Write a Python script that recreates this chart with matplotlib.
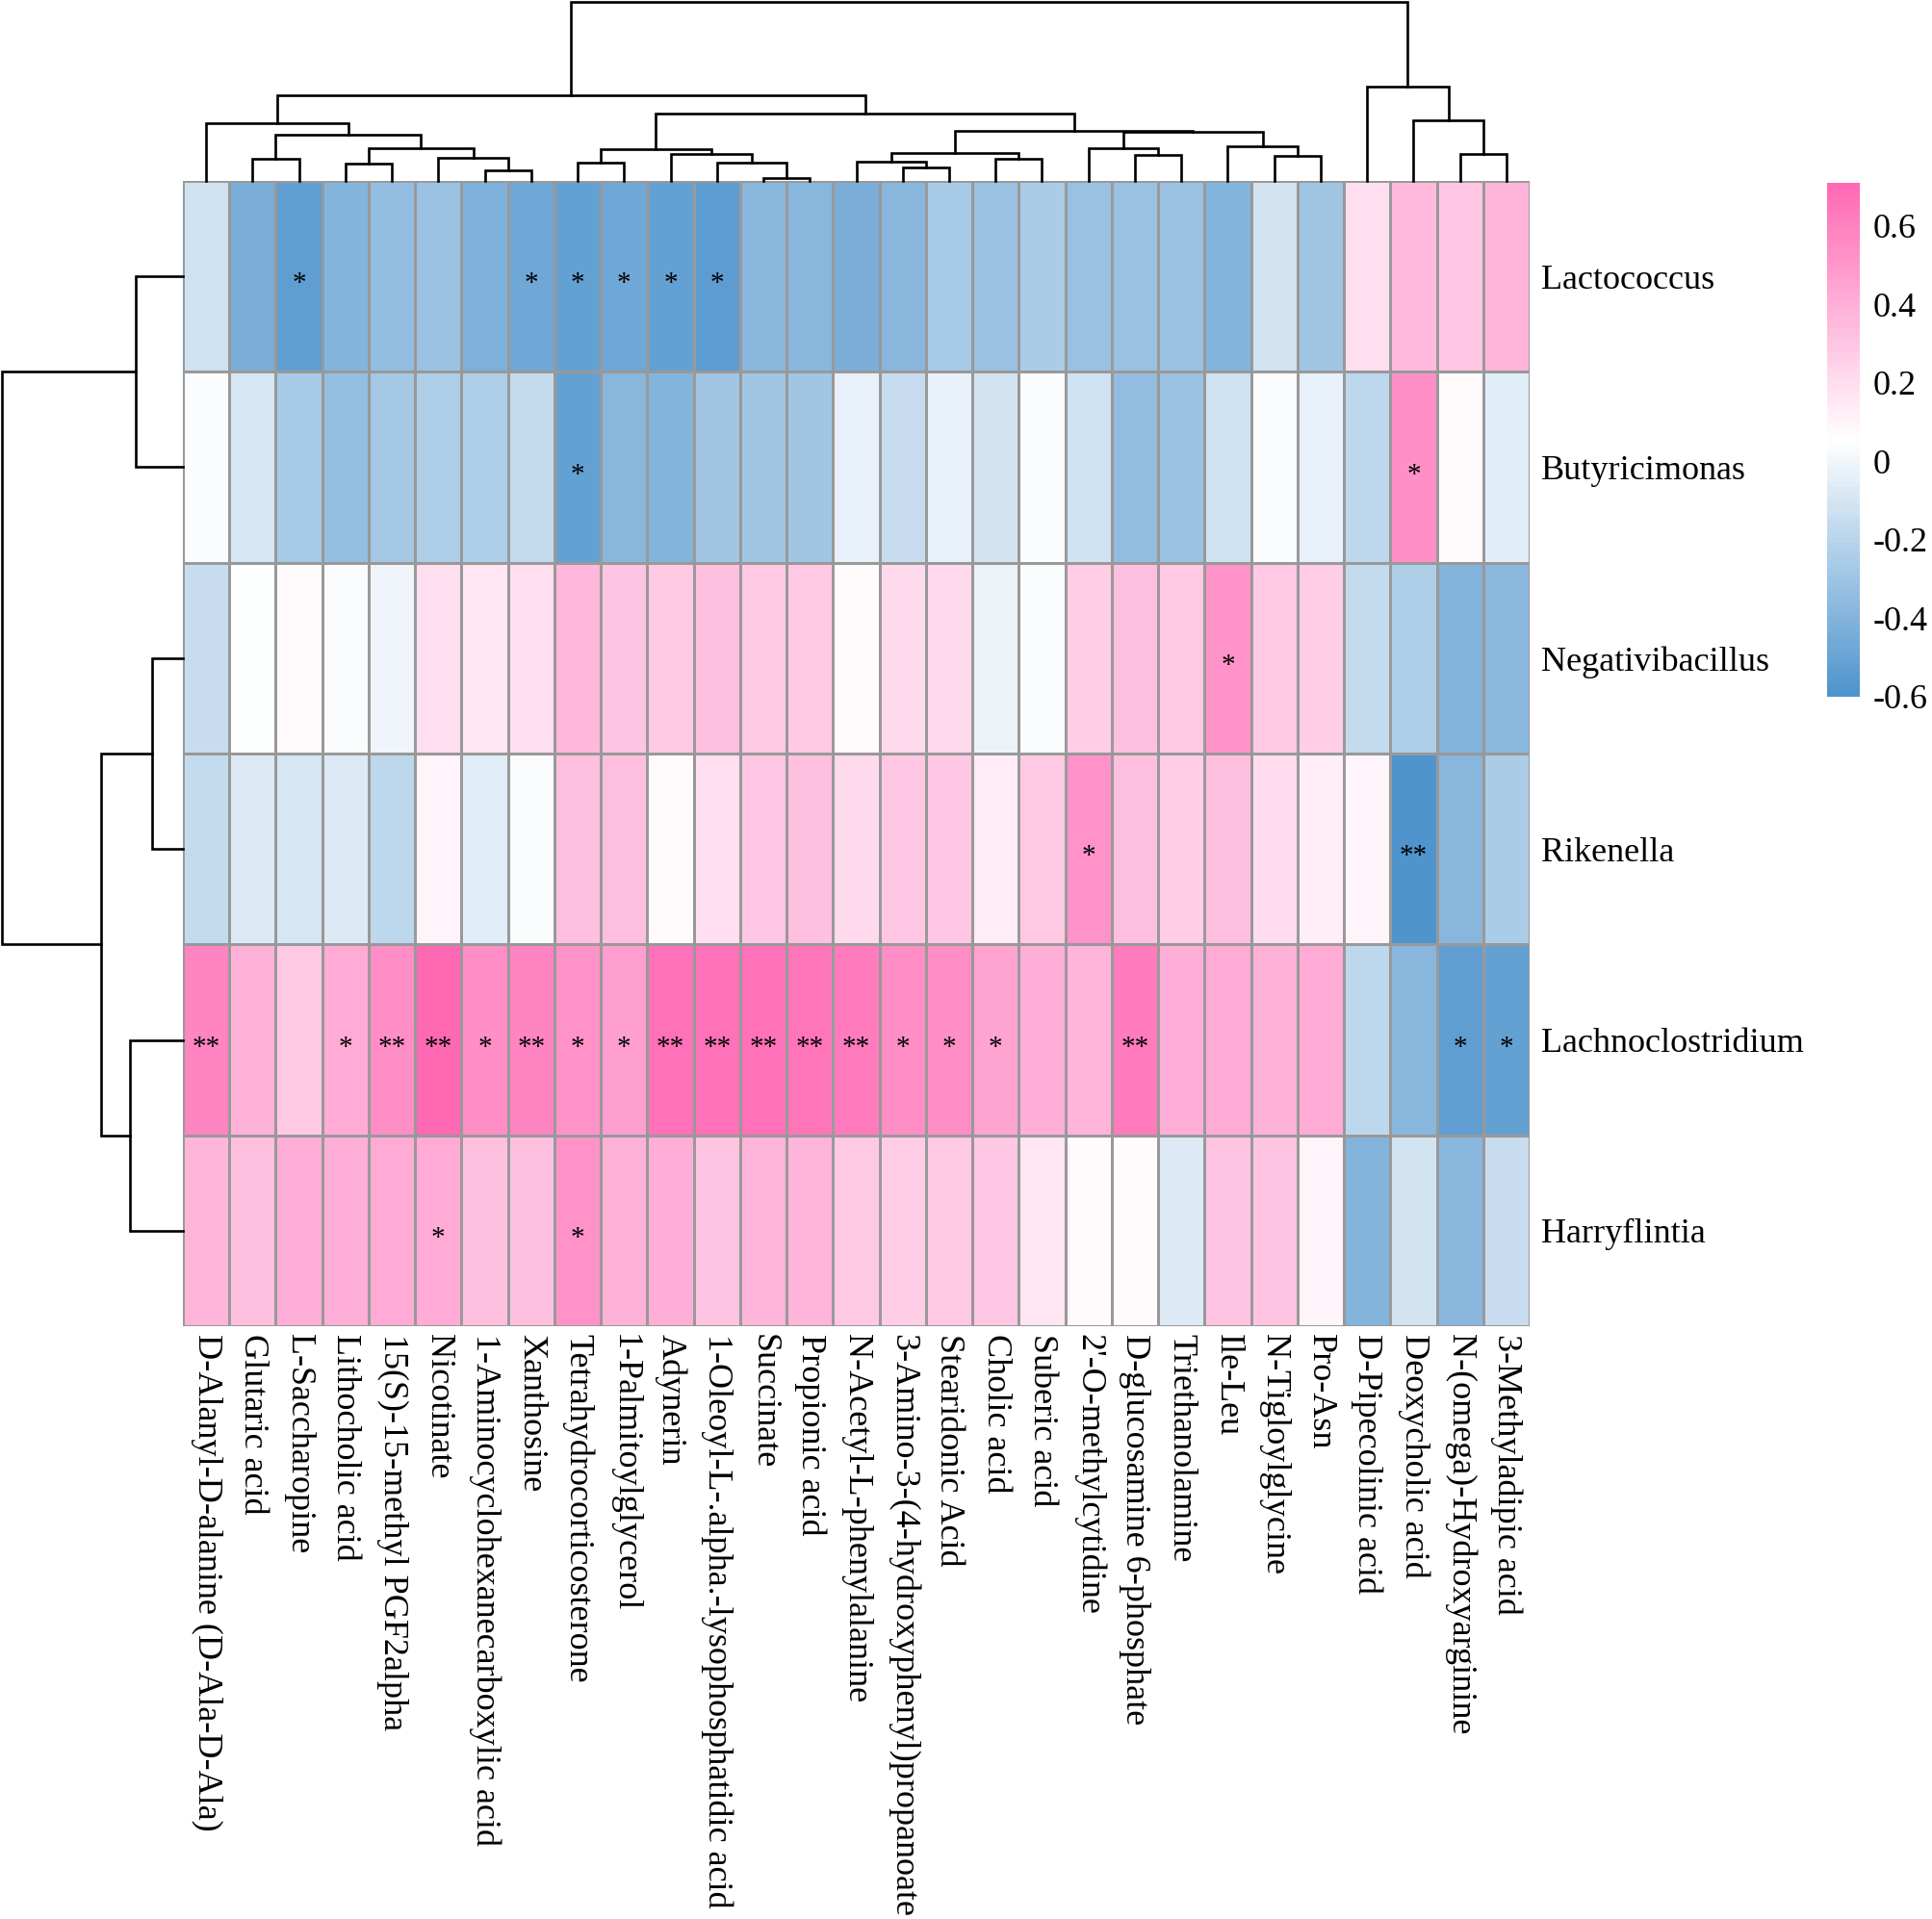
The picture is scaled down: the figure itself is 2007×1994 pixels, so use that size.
import numpy as np
import matplotlib
matplotlib.use("Agg")
import matplotlib.pyplot as plt
from matplotlib.colors import LinearSegmentedColormap, ListedColormap
import matplotlib.transforms as mtransforms

plt.rcParams['font.family'] = ['Liberation Serif', 'DejaVu Serif']

# ---------------- data ----------------
metabolites = [
    "D-Alanyl-D-alanine (D-Ala-D-Ala)", "Glutaric acid", "L-Saccharopine", "Lithocholic acid",
    "15(S)-15-methyl PGF2alpha", "Nicotinate", "1-Aminocyclohexanecarboxylic acid", "Xanthosine",
    "Tetrahydrocorticosterone", "1-Palmitoylglycerol", "Adynerin",
    "1-Oleoyl-L-.alpha.-lysophosphatidic acid", "Succinate", "Propionic acid",
    "N-Acetyl-L-phenylalanine", "3-Amino-3-(4-hydroxyphenyl)propanoate", "Stearidonic Acid",
    "Cholic acid", "Suberic acid", "2'-O-methylcytidine", "D-glucosamine 6-phosphate",
    "Triethanolamine", "Ile-Leu", "N-Tigloylglycine", "Pro-Asn", "D-Pipecolinic acid",
    "Deoxycholic acid", "N-(omega)-Hydroxyarginine", "3-Methyladipic acid",
]
genera = ["Lactococcus", "Butyricimonas", "Negativibacillus", "Rikenella",
          "Lachnoclostridium", "Harryflintia"]

r_lactococcus = [-0.12, -0.44, -0.53, -0.40, -0.34, -0.32, -0.42, -0.48, -0.51, -0.47,
                 -0.51, -0.54, -0.38, -0.38, -0.43, -0.38, -0.26, -0.32, -0.25, -0.32,
                 -0.32, -0.32, -0.40, -0.11, -0.29, 0.19, 0.35, 0.30, 0.38]
r_butyricimonas = [0.04, -0.10, -0.27, -0.33, -0.28, -0.24, -0.24, -0.16, -0.51, -0.38,
                   -0.40, -0.29, -0.29, -0.29, -0.03, -0.15, -0.03, -0.11, 0.04, -0.12,
                   -0.34, -0.32, -0.12, 0.04, -0.03, -0.19, 0.53, 0.07, -0.05]
r_negativibacillus = [-0.15, 0.05, 0.07, 0.04, -0.01, 0.19, 0.16, 0.19, 0.36, 0.31,
                      0.28, 0.32, 0.28, 0.28, 0.07, 0.22, 0.22, -0.02, 0.04, 0.27,
                      0.32, 0.28, 0.52, 0.29, 0.27, -0.16, -0.24, -0.40, -0.37]
r_rikenella = [-0.16, -0.07, -0.10, -0.07, -0.19, 0.10, -0.05, 0.04, 0.32, 0.32,
               0.07, 0.19, 0.30, 0.32, 0.22, 0.30, 0.30, 0.14, 0.29, 0.52,
               0.32, 0.27, 0.32, 0.21, 0.13, 0.10, -0.60, -0.39, -0.25]
r_lachnoclostridium = [0.59, 0.39, 0.28, 0.42, 0.55, 0.71, 0.54, 0.59, 0.52, 0.47,
                       0.67, 0.67, 0.67, 0.65, 0.62, 0.54, 0.55, 0.46, 0.40, 0.38,
                       0.63, 0.40, 0.42, 0.39, 0.41, -0.19, -0.38, -0.53, -0.51]
r_harryflintia = [0.38, 0.33, 0.40, 0.40, 0.42, 0.42, 0.32, 0.32, 0.52, 0.39,
                  0.40, 0.31, 0.38, 0.38, 0.28, 0.27, 0.29, 0.30, 0.17, 0.07,
                  0.07, -0.07, 0.31, 0.31, 0.10, -0.40, -0.11, -0.38, -0.15]

s_lactococcus = ["", "", "*", "", "", "", "", "*", "*", "*", "*", "*", "", "", "", "", "", "",
                 "", "", "", "", "", "", "", "", "", "", ""]
s_butyricimonas = ["", "", "", "", "", "", "", "", "*", "", "", "", "", "", "", "", "", "",
                   "", "", "", "", "", "", "", "", "*", "", ""]
s_negativibacillus = ["", "", "", "", "", "", "", "", "", "", "", "", "", "", "", "", "", "",
                      "", "", "", "", "*", "", "", "", "", "", ""]
s_rikenella = ["", "", "", "", "", "", "", "", "", "", "", "", "", "", "", "", "", "",
               "", "*", "", "", "", "", "", "", "**", "", ""]
s_lachnoclostridium = ["**", "", "", "*", "**", "**", "*", "**", "*", "*", "**", "**", "**",
                       "**", "**", "*", "*", "*", "", "", "**", "", "", "", "", "", "", "*", "*"]
s_harryflintia = ["", "", "", "", "", "*", "", "", "*", "", "", "", "", "", "", "", "", "",
                  "", "", "", "", "", "", "", "", "", "", ""]

# column dendrogram merges: (child_a, child_b, height); new ids start at 29
col_merges = [
    (1, 2, 69), (3, 4, 53), (6, 7, 32), (5, 31, 74), (30, 32, 102), (29, 33, 144),
    (0, 34, 180), (8, 9, 56), (12, 13, 10), (11, 37, 58), (10, 38, 84), (36, 39, 100),
    (15, 16, 43), (14, 41, 60), (17, 18, 69), (42, 43, 89), (20, 21, 81), (19, 45, 102),
    (23, 24, 79), (22, 47, 110), (46, 48, 154), (44, 49, 157), (40, 50, 211),
    (35, 51, 269), (27, 28, 86), (26, 53, 191), (25, 54, 297), (52, 55, 562),
]
# row dendrogram merges; new ids start at 6
row_merges = [(0, 1, 48), (2, 3, 32), (4, 5, 54), (7, 8, 84), (6, 9, 186)]

cbar_ticks = [-0.6, -0.4, -0.2, 0.0, 0.2, 0.4, 0.6]
cbar_labels = ["-0.6", "-0.4", "-0.2", "0", "0.2", "0.4", "0.6"]

# ---------------- figure ----------------
data = np.array([r_lactococcus, r_butyricimonas, r_negativibacillus, r_rikenella,
                 r_lachnoclostridium, r_harryflintia])
sig = [s_lactococcus, s_butyricimonas, s_negativibacillus, s_rikenella,
       s_lachnoclostridium, s_harryflintia]
nr, nc = data.shape

W, H = 2008, 1994
fig = plt.figure(figsize=(W / 100, H / 100), dpi=100)


def fr(x0, y0, x1, y1):
    return [x0 / W, 1 - y1 / H, (x1 - x0) / W, (y1 - y0) / H]


hx0, hy0, hx1, hy1 = 190, 188, 1589, 1378
ax = fig.add_axes(fr(hx0, hy0, hx1, hy1))
axt = fig.add_axes(fr(hx0, 2, hx1, hy0))
axl = fig.add_axes(fr(2, hy0, hx0, hy1))
cax = fig.add_axes(fr(1898, 190, 1932, 724))

base = LinearSegmentedColormap.from_list("bwp", ["#4F94CD", "#FFFFFF", "#FF69B4"])
cmap = ListedColormap(base(np.linspace(0, 1, 100)))

mesh = ax.pcolormesh(np.arange(nc + 1), np.arange(nr + 1), data, cmap=cmap,
                     vmin=data.min(), vmax=data.max(), edgecolors="#999999", linewidth=1.8)
ax.set_xlim(0, nc)
ax.set_ylim(nr, 0)
for s in ax.spines.values():
    s.set_visible(False)
ax.yaxis.tick_right()
ax.set_yticks(np.arange(nr) + 0.5)
ax.set_yticklabels(genera)
ax.set_xticks(np.arange(nc) + 0.5)
ax.set_xticklabels(metabolites, rotation=270)
ax.tick_params(axis="y", length=0, pad=8.5, labelsize=26)
ax.tick_params(axis="x", length=0, pad=5.5, labelsize=26)

star_fs = 21
off = mtransforms.ScaledTranslation(0, -0.52 * star_fs / 72, fig.dpi_scale_trans)
for i in range(nr):
    for j in range(nc):
        if sig[i][j]:
            ax.text(j + 0.5, i + 0.5, sig[i][j], ha="center", va="baseline",
                    fontsize=star_fs, transform=ax.transData + off)


def draw_dendro(a, merges, n, orient):
    pos = {k: k + 0.5 for k in range(n)}
    hg = {k: 0.0 for k in range(n)}
    for k, (c1, c2, h) in enumerate(merges):
        x1, x2 = pos[c1], pos[c2]
        h1, h2 = hg[c1], hg[c2]
        if orient == "top":
            a.plot([x1, x1, x2, x2], [h1, h, h, h2], color="black", lw=1.9,
                   clip_on=False, solid_joinstyle="miter")
        else:
            a.plot([h1, h, h, h2], [x1, x1, x2, x2], color="black", lw=1.9,
                   clip_on=False, solid_joinstyle="miter")
        pos[n + k] = (x1 + x2) / 2
        hg[n + k] = h
    return max(hg.values())


mt = draw_dendro(axt, col_merges, nc, "top")
axt.set_xlim(0, nc)
axt.set_ylim(0, mt)
axt.axis("off")

ml = draw_dendro(axl, row_merges, nr, "left")
axl.set_ylim(nr, 0)
axl.set_xlim(ml, 0)
axl.axis("off")

cb = fig.colorbar(mesh, cax=cax)
cb.outline.set_visible(False)
cb.set_ticks(cbar_ticks)
cb.set_ticklabels(cbar_labels)
cax.tick_params(length=0, labelsize=26, pad=10)

fig.savefig("out.png", dpi=100, facecolor="white")
